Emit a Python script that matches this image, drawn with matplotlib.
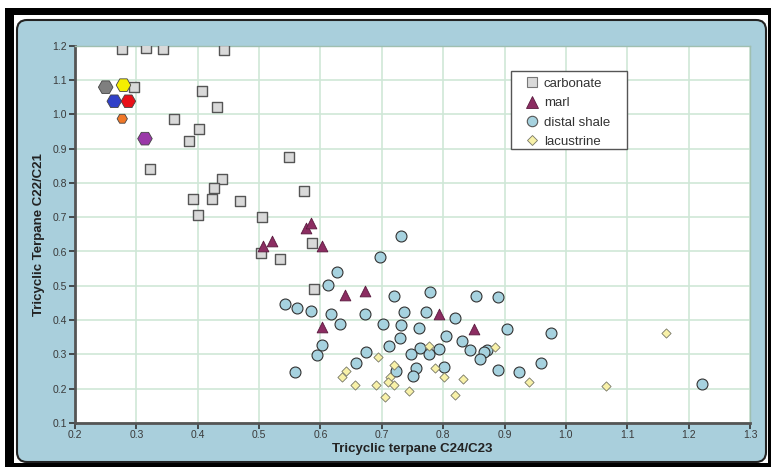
import numpy as np
import matplotlib
matplotlib.use("Agg")
import matplotlib.pyplot as plt
from matplotlib.patches import Rectangle, FancyBboxPatch
from matplotlib.lines import Line2D

plt.rcParams['font.family'] = ['Liberation Sans', 'DejaVu Sans']

# -----------------------------
# Daten
# -----------------------------
carb_x = [0.277, 0.315, 0.343, 0.442, 0.296, 0.407, 0.431, 0.361, 0.402, 0.385,
          0.323, 0.440, 0.427, 0.392, 0.423, 0.469, 0.400, 0.505, 0.549, 0.574,
          0.503, 0.534, 0.586, 0.589]
carb_y = [1.190, 1.194, 1.191, 1.187, 1.080, 1.068, 1.020, 0.986, 0.958, 0.922,
          0.841, 0.812, 0.784, 0.752, 0.752, 0.746, 0.707, 0.700, 0.875, 0.777,
          0.597, 0.579, 0.624, 0.491]

marl_x = [0.507, 0.521, 0.576, 0.585, 0.603, 0.640, 0.673, 0.794, 0.603, 0.850]
marl_y = [0.616, 0.631, 0.668, 0.682, 0.617, 0.472, 0.485, 0.419, 0.381, 0.373]

shale_x = [0.732, 0.697, 0.627, 0.612, 0.779, 0.720, 0.854, 0.889, 0.543, 0.561,
           0.585, 0.618, 0.673, 0.736, 0.772, 0.819, 0.632, 0.702, 0.732, 0.761,
           0.729, 0.804, 0.831, 0.603, 0.711, 0.763, 0.793, 0.843, 0.872, 0.866,
           0.675, 0.748, 0.777, 0.594, 0.860, 0.658, 0.755, 0.801, 0.723, 0.559,
           0.751, 0.889, 0.904, 0.975, 0.959, 0.924, 1.222]
shale_y = [0.646, 0.583, 0.540, 0.502, 0.482, 0.469, 0.469, 0.467, 0.446, 0.435,
           0.426, 0.418, 0.418, 0.425, 0.424, 0.405, 0.390, 0.390, 0.385, 0.376,
           0.349, 0.353, 0.338, 0.327, 0.324, 0.318, 0.316, 0.314, 0.314, 0.307,
           0.307, 0.301, 0.301, 0.297, 0.288, 0.274, 0.259, 0.263, 0.252, 0.250,
           0.238, 0.254, 0.375, 0.363, 0.276, 0.250, 0.214]

lac_x = [0.777, 0.885, 0.694, 0.720, 0.787, 0.642, 0.635, 0.713, 0.802, 0.833,
         0.657, 0.691, 0.710, 0.720, 0.745, 0.819, 0.706, 0.940, 1.066, 1.163]
lac_y = [0.325, 0.323, 0.291, 0.269, 0.261, 0.253, 0.233, 0.234, 0.233, 0.227,
         0.211, 0.211, 0.219, 0.211, 0.192, 0.182, 0.176, 0.220, 0.209, 0.363]

# Einzelproben (Sechsecke)
hex_x = [0.250, 0.279, 0.264, 0.287, 0.277, 0.314]
hex_y = [1.079, 1.085, 1.038, 1.038, 0.987, 0.929]
hex_farben = ['#7f7f7f', '#f4ee00', '#3040c8', '#e81018', '#f07828', '#9a38a8']
hex_groesse = [110, 110, 110, 110, 55, 110]

# -----------------------------
# Abbildung
# -----------------------------
W, H = 771, 467
fig = plt.figure(figsize=(W / 100, H / 100), dpi=100)
fig.patch.set_facecolor('white')

def px_rect(x0, y0, x1, y1, **kw):
    # Pixelkoordinaten (von oben) -> Zoll
    return Rectangle((x0 / 100, (H - y1) / 100), (x1 - x0) / 100, (y1 - y0) / 100,
                     transform=fig.dpi_scale_trans, **kw)

rahmen = px_rect(5, 8, 771, 467, facecolor='black', edgecolor='none', zorder=-10)
innen = px_rect(14, 15, 768, 463, facecolor='white', edgecolor='none', zorder=-9)
panel = FancyBboxPatch((17 / 100, (H - 462) / 100), (766 - 17) / 100, (462 - 20) / 100,
                       boxstyle='round,pad=0,rounding_size=0.1',
                       transform=fig.dpi_scale_trans, facecolor='#a9cfdc',
                       edgecolor='#222222', linewidth=1.5, zorder=-8)
for p in (rahmen, innen, panel):
    fig.add_artist(p)

ax = fig.add_axes([75 / W, 1 - 423 / H, 675 / W, (423 - 45.7) / H])
ax.set_facecolor('white')

ax.scatter(carb_x, carb_y, marker='s', s=48, facecolor='#d9d9d9', edgecolor='#555555',
           linewidth=1.0, zorder=3)
ax.scatter(marl_x, marl_y, marker='^', s=60, facecolor='#8c2d62', edgecolor='#5a1a3e',
           linewidth=0.6, zorder=3)
ax.scatter(shale_x, shale_y, marker='o', s=62, facecolor='#a6d2df', edgecolor='#333333',
           linewidth=0.8, zorder=3)
ax.scatter(lac_x, lac_y, marker='D', s=22, facecolor='#f8f1a8', edgecolor='#777766',
           linewidth=0.6, zorder=3)
ax.scatter(hex_x, hex_y, marker='H', s=hex_groesse, c=hex_farben, edgecolor='#444444',
           linewidth=0.6, zorder=4)

ax.set_xlim(0.2, 1.3)
ax.set_ylim(0.1, 1.2)
ax.set_xticks(np.arange(0.2, 1.31, 0.1))
ax.set_yticks(np.arange(0.1, 1.21, 0.1))
ax.xaxis.set_major_formatter(plt.FormatStrFormatter('%.1f'))
ax.yaxis.set_major_formatter(plt.FormatStrFormatter('%.1f'))
ax.grid(True, color='#cfe7d7', linewidth=1.2, zorder=0)
ax.set_axisbelow(True)

for s in ('left', 'bottom'):
    ax.spines[s].set_color('#555555')
    ax.spines[s].set_linewidth(2)
for s in ('top', 'right'):
    ax.spines[s].set_color('#9fbfb0')
    ax.spines[s].set_linewidth(1)

ax.tick_params(axis='both', direction='out', length=4, width=1.2, color='#333333',
               labelsize=7.5, labelcolor='#3a3a3a', pad=2)
ax.tick_params(axis='x', pad=1)

ax.set_xlabel('Tricyclic terpane C24/C23', fontsize=9.5, fontweight='bold',
              color='#222222', labelpad=2)
ax.set_ylabel('Tricyclic Terpane C22/C21', fontsize=9.5, fontweight='bold',
              color='#222222', labelpad=5)

# Legende: Rahmen separat gezeichnet (breiter als der Inhalt)
ax.add_patch(Rectangle((0.6455, 0.7262), 0.8178 - 0.6455, 0.9337 - 0.7262,
                       transform=ax.transAxes, facecolor='white', edgecolor='#555555',
                       linewidth=1.0, zorder=5))
handles = [
    Line2D([], [], linestyle='none', marker='s', markersize=7, markerfacecolor='#d9d9d9',
           markeredgecolor='#777777', markeredgewidth=0.8),
    Line2D([], [], linestyle='none', marker='^', markersize=8, markerfacecolor='#8c2d62',
           markeredgecolor='#5a1a3e', markeredgewidth=0.6),
    Line2D([], [], linestyle='none', marker='o', markersize=7.5, markerfacecolor='#a6d2df',
           markeredgecolor='#555555', markeredgewidth=0.8),
    Line2D([], [], linestyle='none', marker='D', markersize=5, markerfacecolor='#f8f1a8',
           markeredgecolor='#777766', markeredgewidth=0.6),
]
leg = ax.legend(handles, ['carbonate', 'marl', 'distal shale', 'lacustrine'],
                loc='upper left', bbox_to_anchor=(0.667, 0.916), fontsize=9.5,
                frameon=False, handlelength=1.0, handletextpad=0.4,
                labelspacing=0.55, borderpad=0, borderaxespad=0)
leg.set_zorder(6)
for t in leg.get_texts():
    t.set_color('#333333')

fig.savefig('out.png', dpi=100)
